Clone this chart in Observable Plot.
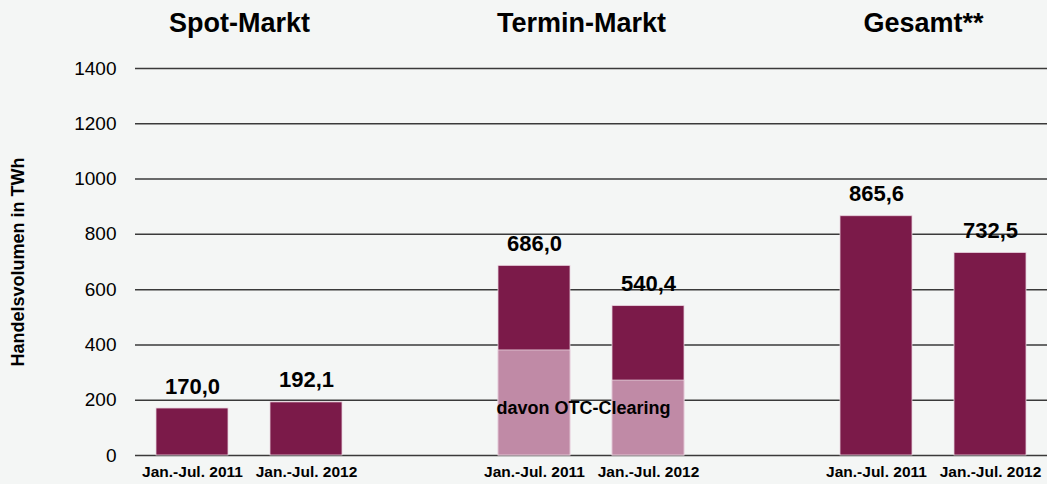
<!DOCTYPE html>
<html>
<head>
<meta charset="utf-8">
<script src="https://cdn.jsdelivr.net/npm/d3@7"></script>
<script src="https://cdn.jsdelivr.net/npm/@observablehq/plot@0.6"></script>
<style>
  html, body { margin: 0; padding: 0; background: #f4f6f5; }
  #chart svg { display: block; }
  #chart g[aria-label="x-axis tick label"] text { font-weight: bold; }
</style>
</head>
<body>
<div id="chart"></div>
<script>
const markets = ["Spot-Markt", "Termin-Markt", "Gesamt**"];
const periods = ["Jan.-Jul. 2011", "Jan.-Jul. 2012"];
const spotValues = [170.0, 192.1];
const terminValues = [686.0, 540.4];
const gesamtValues = [865.6, 732.5];
const terminOtcValues = [380, 271];
const otcLabel = "davon OTC-Clearing";
const otcLabelValue = 170;
const yTicks = [0, 200, 400, 600, 800, 1000, 1200, 1400];
const yLabel = "Handelsvolumen in TWh";

const seriesByMarket = [spotValues, terminValues, gesamtValues];
const key = (m, p) => m + "|" + p;

const xDomain = [];
markets.forEach((m, i) => {
  if (i > 0) xDomain.push("gap" + i);
  periods.forEach(p => xDomain.push(key(m, p)));
});

const totals = [];
markets.forEach((m, i) => periods.forEach((p, j) => totals.push({key: key(m, p), value: seriesByMarket[i][j]})));
const otcRows = periods.map((p, j) => ({key: key("Termin-Markt", p), value: terminOtcValues[j]}));

const fmt = v => d3.format(".1f")(v).replace(".", ",");
const tickLabel = k => k.startsWith("gap") ? "" : k.split("|")[1];

const font = "'Liberation Sans', Arial, Helvetica, sans-serif";

const chart = Plot.plot({
  width: 1047,
  height: 484,
  marginTop: 68,
  marginBottom: 29,
  marginLeft: 135,
  marginRight: 0,
  style: {background: "#f4f6f5", fontFamily: font, color: "#000"},
  x: {domain: xDomain, paddingInner: 0.368, paddingOuter: 0.184, axis: null},
  y: {domain: [0, 1400], axis: null},
  marks: [
    Plot.ruleY(yTicks, {stroke: "#3a3a3a", strokeWidth: 1.5}),
    Plot.barY(totals, {x: "key", y: "value", fill: "#7b1a49", stroke: "#e9d3de", strokeWidth: 0.8}),
    Plot.barY(otcRows, {x: "key", y: "value", fill: "#c08aa6", stroke: "#e9d3de", strokeWidth: 0.8}),
    Plot.text(totals, {x: "key", y: "value", text: d => fmt(d.value), dy: -22, fontSize: 22, fontWeight: "bold", fill: "#000"}),
    Plot.axisX({tickSize: 0, tickPadding: 10, tickFormat: tickLabel, label: null, fontSize: 15.5, fontWeight: "bold", fill: "#000"}),
    Plot.axisY(yTicks, {tickSize: 0, tickPadding: 19, tickFormat: d => String(d), fontSize: 19, label: null, fill: "#000"}),
    Plot.text(markets, {x: m => key(m, periods[0]), text: d => d, frameAnchor: "top", dy: -56, dx: 47, fontSize: 27, fontWeight: "bold", fill: "#000"}),
    Plot.text([yLabel], {text: d => d, frameAnchor: "left", textAnchor: "middle", dx: -117, rotate: -90, fontSize: 18, fontWeight: "bold", fill: "#000"}),
    Plot.text([otcLabel], {x: () => key("Termin-Markt", periods[0]), y: () => otcLabelValue, text: d => d, textAnchor: "start", dx: -38, fontSize: 18, fontWeight: "bold", fill: "#000"})
  ]
});
document.getElementById("chart").appendChild(chart);
</script>
</body>
</html>
